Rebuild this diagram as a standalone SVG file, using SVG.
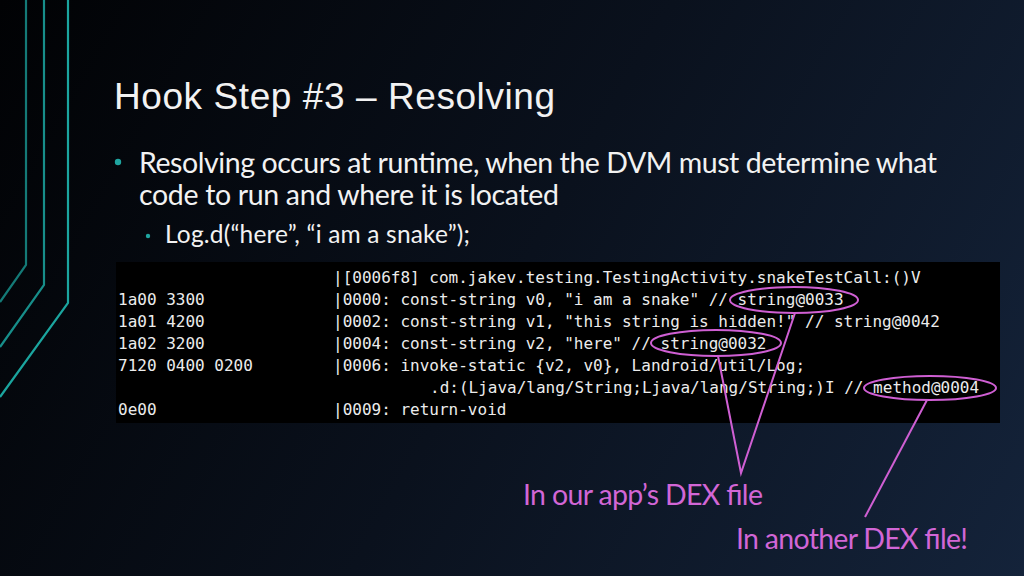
<svg xmlns="http://www.w3.org/2000/svg" width="1024" height="576" viewBox="0 0 1024 576">
  <defs>
    <linearGradient id="bg" x1="0" y1="0" x2="1024" y2="576" gradientUnits="userSpaceOnUse">
      <stop offset="0" stop-color="#010204"/>
      <stop offset="0.5" stop-color="#0a111d"/>
      <stop offset="1" stop-color="#14233a"/>
    </linearGradient>
    <style>
      .title { font-family: "Liberation Sans", Arial, sans-serif; font-size: 37px; fill: #f2f2f2; }
      .body { font-family: Lato, "Open Sans", sans-serif; fill: #f2f2f2; }
      .code { font-family: "DejaVu Sans Mono", "Liberation Mono", monospace; font-size: 16px; fill: #ececec; }
      .deco { fill: none; stroke-width: 2.2; }
      .mark { fill: none; stroke: #cf5fd3; stroke-width: 2; }
      .lbl { font-family: Lato, "Open Sans", sans-serif; font-size: 28.5px; fill: #d266d6; }
      .dot { fill: #1fa5a0; }
    </style>
  </defs>

  <rect width="1024" height="576" fill="url(#bg)"/>

  <g id="decoration">
    <path class="deco" stroke="#147a77" d="M26,0 V265 L0,302"/>
    <path class="deco" stroke="#178e8a" d="M44,0 V285 L0,347"/>
    <path class="deco" stroke="#1ba59f" d="M68,0 V303 L0,397"/>
  </g>

  <g id="title">
    <text class="title" x="114" y="109" textLength="441">Hook Step #3 – Resolving</text>
  </g>

  <g id="bullets">
    <circle class="dot" cx="118" cy="162" r="3.2"/>
    <text class="body" x="139" y="173" font-size="28.5" textLength="798">Resolving occurs at runtime, when the DVM must determine what</text>
    <text class="body" x="139" y="205" font-size="28.5" textLength="420">code to run and where it is located</text>
    <circle class="dot" cx="148" cy="236" r="2.2"/>
    <text class="body" x="165" y="243" font-size="24.5" textLength="305">Log.d(“here”, “i am a snake”);</text>
  </g>

  <g id="code-block">
    <rect x="116" y="262" width="884" height="161" fill="#000"/>
    <text class="code" x="333" y="283">|[0006f8] com.jakev.testing.TestingActivity.snakeTestCall:()V</text>
    <text class="code" x="118" y="305">1a00 3300</text>
    <text class="code" x="333" y="305">|0000: const-string v0, "i am a snake" // string@0033</text>
    <text class="code" x="118" y="327">1a01 4200</text>
    <text class="code" x="333" y="327">|0002: const-string v1, "this string is hidden!" // string@0042</text>
    <text class="code" x="118" y="349">1a02 3200</text>
    <text class="code" x="333" y="349">|0004: const-string v2, "here" // string@0032</text>
    <text class="code" x="118" y="371">7120 0400 0200</text>
    <text class="code" x="333" y="371">|0006: invoke-static {v2, v0}, Landroid/util/Log;</text>
    <text class="code" x="430" y="393">.d:(Ljava/lang/String;Ljava/lang/String;)I // method@0004</text>
    <text class="code" x="118" y="415">0e00</text>
    <text class="code" x="333" y="415">|0009: return-void</text>
  </g>

  <g id="connectors">
    <ellipse class="mark" cx="794" cy="300" rx="64" ry="13"/>
    <ellipse class="mark" cx="716" cy="343" rx="65" ry="13"/>
    <ellipse class="mark" cx="930" cy="388" rx="66" ry="12"/>
    <path class="mark" d="M795,313 L741,473 L718,356"/>
    <path class="mark" d="M927,400 L865,517"/>
  </g>

  <g id="label-app-dex">
    <text class="lbl" x="523" y="505" textLength="240">In our app’s DEX file</text>
  </g>
  <g id="label-other-dex">
    <text class="lbl" x="736" y="549" textLength="232">In another DEX file!</text>
  </g>
</svg>
